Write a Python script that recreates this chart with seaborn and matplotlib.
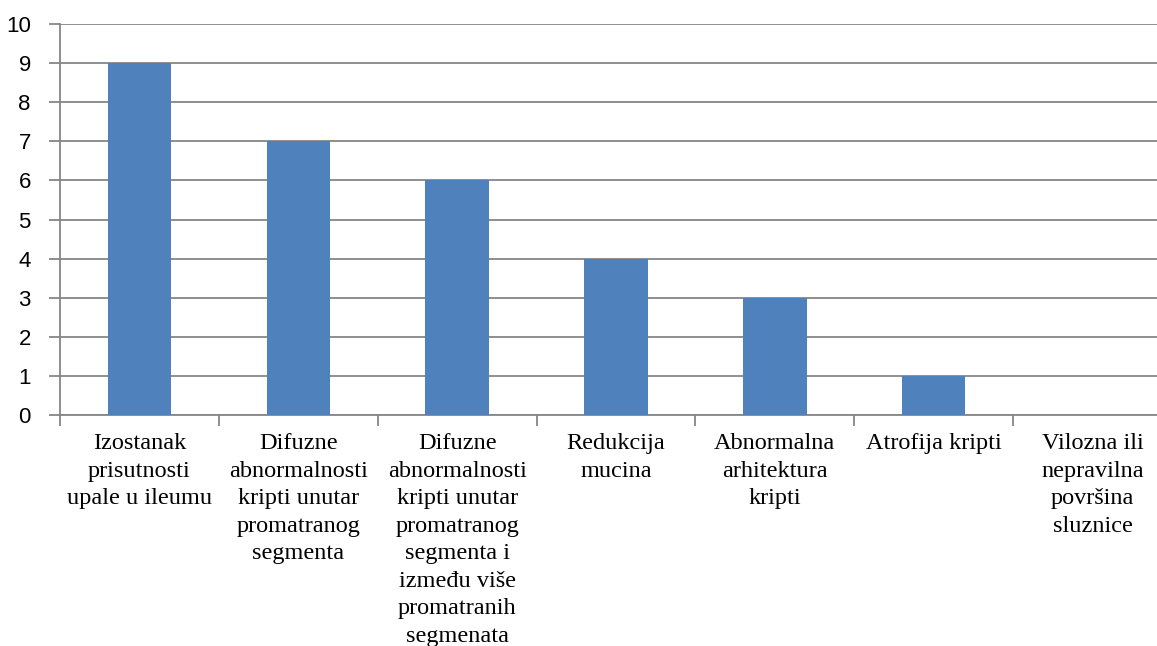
import matplotlib
matplotlib.use("Agg")
import matplotlib.pyplot as plt
import seaborn as sns
import pandas as pd
import numpy as np

categories = [
    "Izostanak\nprisutnosti\nupale u ileumu",
    "Difuzne\nabnormalnosti\nkripti unutar\npromatranog\nsegmenta",
    "Difuzne\nabnormalnosti\nkripti unutar\npromatranog\nsegmenta i\nizmeđu više\npromatranih\nsegmenata",
    "Redukcija\nmucina",
    "Abnormalna\narhitektura\nkripti",
    "Atrofija kripti",
    "Vilozna ili\nnepravilna\npovršina\nsluznice",
]
values = [9, 7, 6, 4, 3, 1, 0]
yticks = list(range(0, 11))

sns.set_theme(style="white")
plt.rcParams['font.family'] = ['Liberation Sans', 'DejaVu Sans']

W, H = 1157, 646
fig = plt.figure(figsize=(W / 100, H / 100), dpi=100)
left, right = 60, 1172
top, bottom = 24, 415
ax = fig.add_axes([left / W, 1 - bottom / H, (right - left) / W, (bottom - top) / H])

df = pd.DataFrame({"cat": categories, "val": values})
sns.barplot(data=df, x="cat", y="val", color="#4F81BD", saturation=1, width=0.4,
            linewidth=0, ax=ax, zorder=3)

grid_c = "#868686"
ax.set_ylim(0, 10)
ax.set_xlim(-0.5, len(categories) - 0.5)
ax.set_yticks(yticks)
ax.set_yticklabels([str(t) for t in yticks], fontsize=16, color="black")
ax.yaxis.grid(True, color=grid_c, linewidth=1.3, zorder=0)
ax.set_axisbelow(True)
for s in ["top", "right"]:
    ax.spines[s].set_visible(False)
ax.spines["left"].set_color(grid_c)
ax.spines["bottom"].set_color(grid_c)
ax.spines["left"].set_linewidth(1.3)
ax.spines["bottom"].set_linewidth(1.3)
ax.tick_params(axis="y", length=8, width=1.3, color=grid_c, pad=13, left=True)

# category labels
ax.set_xticks(range(len(categories)))
ax.set_xticklabels(categories, fontsize=17.5, family=["Liberation Serif", "DejaVu Serif"],
                   linespacing=1.41, color="black")
ax.tick_params(axis="x", length=0, pad=13, bottom=True)
# boundary ticks
ax.set_xticks(np.arange(-0.5, len(categories), 1.0), minor=True)
ax.tick_params(axis="x", which="minor", length=8, width=1.3, color=grid_c, bottom=True)
ax.set_xlabel("")
ax.set_ylabel("")

fig.savefig("out.png", dpi=100)
